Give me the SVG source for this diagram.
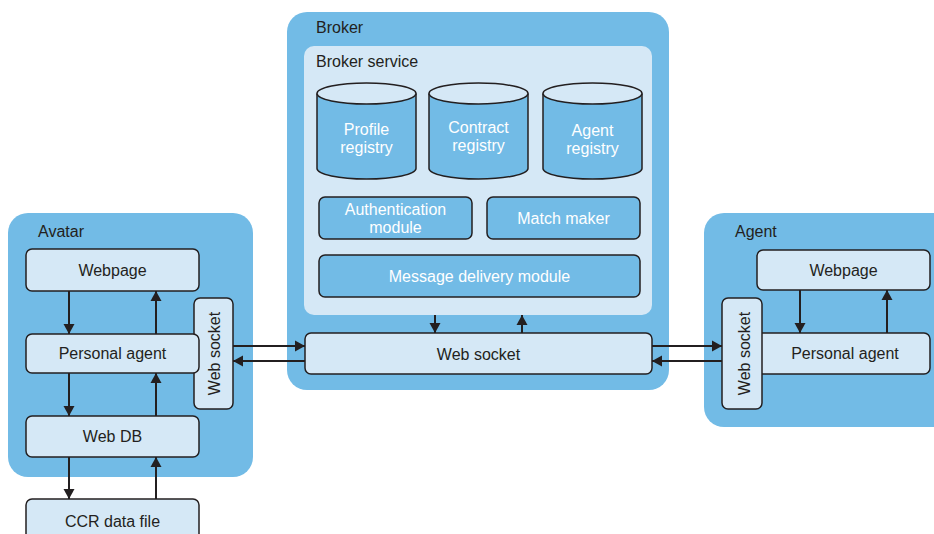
<svg xmlns="http://www.w3.org/2000/svg" width="934" height="534" viewBox="0 0 934 534">
  <style>
    .panel { fill: #72bbe6; }
    .inner { fill: #d5e8f6; }
    .box { fill: #d5e8f6; stroke: #231f20; stroke-width: 1.5; }
    .mod { fill: #72bbe6; stroke: #231f20; stroke-width: 1.5; }
    .lbl { font-family: "Liberation Sans", Arial, sans-serif; font-size: 16px; fill: #231f20; }
    .wl { font-family: "Liberation Sans", Arial, sans-serif; font-size: 16px; fill: #ffffff; text-anchor: middle; }
    .c { text-anchor: middle; }
    .link { stroke: #231f20; stroke-width: 2; fill: none; marker-end: url(#head); }
  </style>
  <defs>
    <marker id="head" markerUnits="userSpaceOnUse" markerWidth="12" markerHeight="12" viewBox="0 0 12 12" refX="10" refY="6" orient="auto">
      <path d="M0,0.5 L10,6 L0,11.5 Z" fill="#231f20"/>
    </marker>
  </defs>

  <rect width="934" height="534" fill="#ffffff"/>

  <!-- Avatar -->
  <g id="avatar">
    <rect class="panel" x="8" y="213" width="245" height="264" rx="20"/>
    <text class="lbl" x="38" y="237">Avatar</text>
  </g>
  <g id="avatar-websocket">
    <rect class="box" x="194" y="298" width="39" height="111" rx="6"/>
    <text class="lbl c" transform="translate(219.5,353.5) rotate(-90)">Web socket</text>
  </g>
  <g id="avatar-webpage">
    <rect class="box" x="26" y="249" width="173" height="42" rx="6"/>
    <text class="lbl c" x="112.5" y="276">Webpage</text>
  </g>
  <g id="avatar-personal-agent">
    <rect class="box" x="26" y="334" width="173" height="39" rx="6"/>
    <text class="lbl c" x="112.5" y="359">Personal agent</text>
  </g>
  <g id="avatar-webdb">
    <rect class="box" x="26" y="416" width="173" height="41" rx="6"/>
    <text class="lbl c" x="112.5" y="442">Web DB</text>
  </g>
  <g id="ccr-data-file">
    <rect class="box" x="26" y="499" width="173" height="50" rx="6"/>
    <text class="lbl c" x="112.5" y="527">CCR data file</text>
  </g>

  <!-- Broker -->
  <g id="broker">
    <rect class="panel" x="287" y="12" width="382" height="378" rx="20"/>
    <text class="lbl" x="316" y="33">Broker</text>
  </g>
  <g id="broker-service">
    <rect class="inner" x="304" y="46" width="348" height="269" rx="10"/>
    <text class="lbl" x="316" y="67">Broker service</text>
  </g>
  <g id="profile-registry">
    <path class="mod" d="M317,93.5 V168.5 A49.5,10.5 0 0 0 416,168.5 V93.5"/>
    <ellipse class="box" cx="366.5" cy="93.5" rx="49.5" ry="10.5"/>
    <text class="wl" x="366.5" y="135">Profile</text>
    <text class="wl" x="366.5" y="153">registry</text>
  </g>
  <g id="contract-registry">
    <path class="mod" d="M429,93.5 V168.5 A49.5,10.5 0 0 0 528,168.5 V93.5"/>
    <ellipse class="box" cx="478.5" cy="93.5" rx="49.5" ry="10.5"/>
    <text class="wl" x="478.5" y="133">Contract</text>
    <text class="wl" x="478.5" y="151">registry</text>
  </g>
  <g id="agent-registry">
    <path class="mod" d="M543,93.5 V168.5 A49.5,10.5 0 0 0 642,168.5 V93.5"/>
    <ellipse class="box" cx="592.5" cy="93.5" rx="49.5" ry="10.5"/>
    <text class="wl" x="592.5" y="136">Agent</text>
    <text class="wl" x="592.5" y="154">registry</text>
  </g>
  <g id="authentication-module">
    <rect class="mod" x="319" y="197" width="153" height="42" rx="6"/>
    <text class="wl" x="395.5" y="215">Authentication</text>
    <text class="wl" x="395.5" y="233">module</text>
  </g>
  <g id="match-maker">
    <rect class="mod" x="487" y="197" width="153" height="42" rx="6"/>
    <text class="wl" x="563.5" y="224">Match maker</text>
  </g>
  <g id="message-delivery-module">
    <rect class="mod" x="319" y="255" width="321" height="42" rx="6"/>
    <text class="wl" x="479.5" y="282">Message delivery module</text>
  </g>
  <g id="broker-websocket">
    <rect class="box" x="305" y="333" width="347" height="41" rx="6"/>
    <text class="lbl c" x="478.5" y="360">Web socket</text>
  </g>

  <!-- Agent -->
  <g id="agent">
    <rect class="panel" x="704" y="213" width="250" height="214" rx="20"/>
    <text class="lbl" x="735" y="237">Agent</text>
  </g>
  <g id="agent-webpage">
    <rect class="box" x="757" y="250" width="173" height="40" rx="6"/>
    <text class="lbl c" x="843.5" y="276">Webpage</text>
  </g>
  <g id="agent-personal-agent">
    <rect class="box" x="745" y="333" width="185" height="41" rx="6"/>
    <text class="lbl c" x="845" y="359">Personal agent</text>
  </g>
  <g id="agent-websocket">
    <rect class="box" x="722" y="298" width="40" height="111" rx="6"/>
    <text class="lbl c" transform="translate(750,353.5) rotate(-90)">Web socket</text>
  </g>

  <!-- Connectors -->
  <g id="connectors">
    <path class="link" d="M69,291 V334"/>
    <path class="link" d="M156,334 V291"/>
    <path class="link" d="M69,373 V416"/>
    <path class="link" d="M156,416 V373"/>
    <path class="link" d="M69,457 V499"/>
    <path class="link" d="M156,499 V457"/>
    <path class="link" d="M233,346 H305"/>
    <path class="link" d="M305,361 H233"/>
    <path class="link" d="M435,315 V333"/>
    <path class="link" d="M522,333 V315"/>
    <path class="link" d="M652,346 H722"/>
    <path class="link" d="M722,361 H652"/>
    <path class="link" d="M800,290 V333"/>
    <path class="link" d="M887,333 V290"/>
  </g>
</svg>
